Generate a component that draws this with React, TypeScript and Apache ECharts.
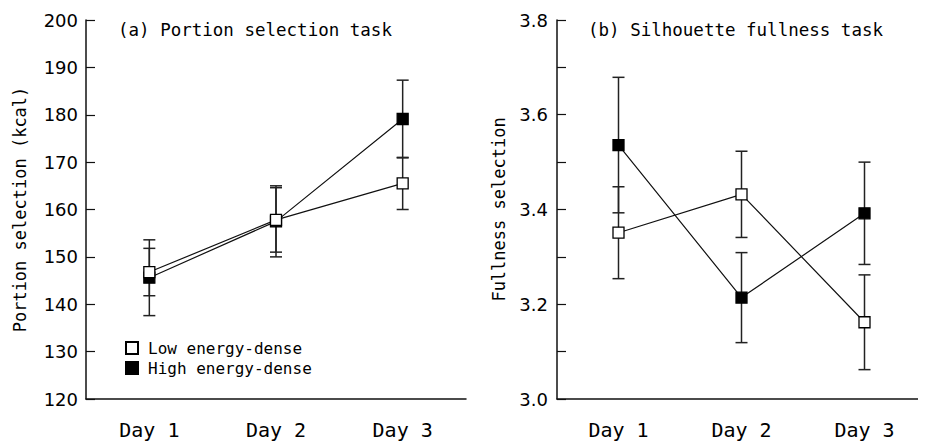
import React, { useEffect, useRef } from "react";
import * as echarts from "echarts";

const categories = ["Day 1", "Day 2", "Day 3"];
const seriesNames = ["Low energy-dense", "High energy-dense"];

const portionLow = [146.8, 157.8, 165.5];
const portionLowErr = [5.0, 6.8, 5.5];
const portionHigh = [145.6, 157.5, 179.1];
const portionHighErr = [8.0, 7.5, 8.2];

const fullLow = [3.351, 3.432, 3.162];
const fullLowErr = [0.097, 0.091, 0.1];
const fullHigh = [3.536, 3.214, 3.392];
const fullHighErr = [0.143, 0.095, 0.108];

const portionTicks = { min: 120, max: 200, interval: 10 };
const fullTicks = { min: 3.0, max: 3.8, interval: 0.1 };

const FONT = "DejaVu Sans";
const MONO = "DejaVu Sans Mono";

function errData(vals: number[], errs: number[]) {
  return vals.map((v, i) => [i, v - errs[i], v + errs[i]]);
}

function errSeries(name: string, idx: number, vals: number[], errs: number[]) {
  return {
    type: "custom",
    name,
    xAxisIndex: idx,
    yAxisIndex: idx,
    z: 1,
    silent: true,
    encode: { x: 0, y: [1, 2] },
    data: errData(vals, errs),
    renderItem: (params: any, api: any) => {
      const x = api.value(0);
      const lo = api.coord([x, api.value(1)]);
      const hi = api.coord([x, api.value(2)]);
      const hw = 6;
      const style = { stroke: "#222", lineWidth: 1.5 };
      return {
        type: "group",
        children: [
          { type: "line", shape: { x1: lo[0], y1: lo[1], x2: hi[0], y2: hi[1] }, style },
          { type: "line", shape: { x1: lo[0] - hw, y1: lo[1], x2: lo[0] + hw, y2: lo[1] }, style },
          { type: "line", shape: { x1: hi[0] - hw, y1: hi[1], x2: hi[0] + hw, y2: hi[1] }, style },
        ],
      };
    },
  };
}

function lineSeries(name: string, idx: number, vals: number[], filled: boolean) {
  return {
    type: "line",
    name,
    xAxisIndex: idx,
    yAxisIndex: idx,
    z: filled ? 3 : 4,
    data: vals,
    symbol: "rect",
    symbolSize: 11,
    lineStyle: { color: "#111", width: 1.2 },
    itemStyle: {
      color: filled ? "#000" : "#fff",
      borderColor: "#000",
      borderWidth: 1.3,
    },
  };
}

export default function App() {
  const ref = useRef<HTMLDivElement>(null);
  useEffect(() => {
    if (!ref.current) return;
    const chart = echarts.init(ref.current, undefined, { renderer: "svg" });
    const axisLine = { show: true, lineStyle: { color: "#111", width: 1.5 } };
    const xAxisBase = {
      type: "category",
      data: categories,
      boundaryGap: true,
      axisLine,
      axisTick: { show: false },
      axisLabel: { color: "#000", fontSize: 20, fontFamily: MONO, margin: 21 },
      splitLine: { show: false },
    };
    const yAxisBase = {
      type: "value",
      axisLine,
      axisTick: { show: true, inside: true, length: 9, lineStyle: { color: "#111", width: 1.2 } },
      splitLine: { show: false },
      nameLocation: "middle",
      nameTextStyle: { color: "#000", fontSize: 17, fontFamily: MONO },
    };
    const titleStyle = { color: "#000", fontSize: 17.5, fontWeight: "normal", fontFamily: MONO };
    chart.setOption({
      animation: false,
      backgroundColor: "#fff",
      title: [
        { text: "(a) Portion selection task", left: 113, top: 16, textStyle: titleStyle },
        { text: "(b) Silhouette fullness task", left: 583, top: 16, textStyle: titleStyle },
      ],
      legend: {
        data: seriesNames,
        orient: "vertical",
        left: 120,
        top: 335,
        icon: "rect",
        itemWidth: 12,
        itemHeight: 12,
        itemGap: 4,
        textStyle: { color: "#000", fontSize: 16, fontFamily: MONO, padding: [0, 0, 0, 5] },
        selectedMode: false,
      },
      grid: [
        { left: 86, top: 20, width: 380, height: 379 },
        { left: 557, top: 20, width: 380, height: 379 },
      ],
      xAxis: [
        { ...xAxisBase, gridIndex: 0 },
        { ...xAxisBase, gridIndex: 1 },
      ],
      yAxis: [
        {
          ...yAxisBase,
          gridIndex: 0,
          min: portionTicks.min,
          max: portionTicks.max,
          interval: portionTicks.interval,
          name: "Portion selection (kcal)",
          nameGap: 58,
          axisLabel: { color: "#000", fontSize: 18, fontFamily: FONT, margin: 8 },
        },
        {
          ...yAxisBase,
          gridIndex: 1,
          min: fullTicks.min,
          max: fullTicks.max,
          interval: fullTicks.interval,
          name: "Fullness selection",
          nameGap: 50,
          axisLabel: {
            color: "#000",
            fontSize: 18,
            fontFamily: FONT,
            margin: 9,
            formatter: (v: number) => (Math.round(v * 10) % 2 === 0 ? v.toFixed(1) : ""),
          },
        },
      ],
      series: [
        errSeries("errHighA", 0, portionHigh, portionHighErr),
        errSeries("errLowA", 0, portionLow, portionLowErr),
        errSeries("errHighB", 1, fullHigh, fullHighErr),
        errSeries("errLowB", 1, fullLow, fullLowErr),
        lineSeries(seriesNames[1], 0, portionHigh, true),
        lineSeries(seriesNames[0], 0, portionLow, false),
        lineSeries(seriesNames[1], 1, fullHigh, true),
        lineSeries(seriesNames[0], 1, fullLow, false),
      ],
    });
    return () => chart.dispose();
  }, []);
  return <div ref={ref} style={{ width: 926, height: 445, marginLeft: -8, marginTop: -8 }} />;
}
